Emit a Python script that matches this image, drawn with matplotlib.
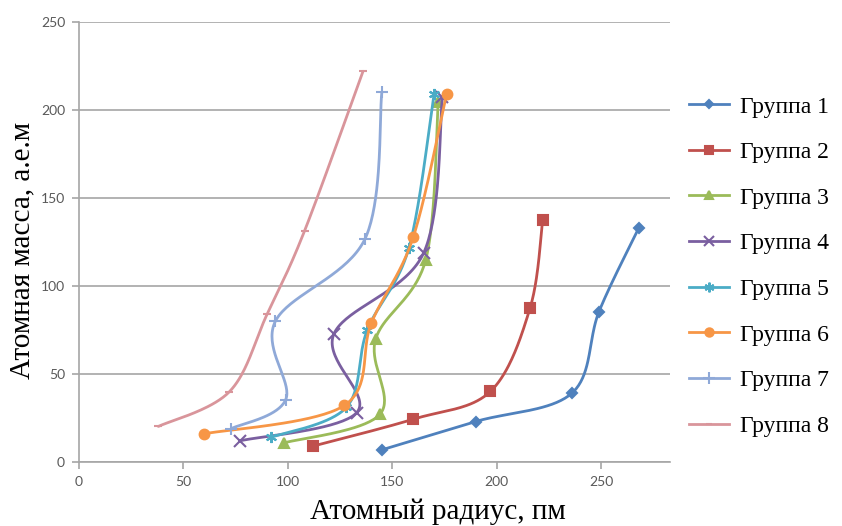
import matplotlib.pyplot as plt
from matplotlib.font_manager import FontProperties
import numpy as np

# Atomic radius (pm) vs atomic mass (a.m.u.) for main groups 1-8
groups = ['Группа 1', 'Группа 2', 'Группа 3', 'Группа 4',
          'Группа 5', 'Группа 6', 'Группа 7', 'Группа 8']

g1_r = [145, 190, 236, 249, 268]
g1_m = [6.9, 23.0, 39.1, 85.5, 132.9]

g2_r = [112, 160, 197, 216, 222]
g2_m = [9.0, 24.3, 40.1, 87.6, 137.3]

g3_r = [98, 144, 142, 166, 172]
g3_m = [10.8, 27.0, 69.7, 114.8, 204.4]

g4_r = [77, 133, 122, 165, 174]
g4_m = [12.0, 28.1, 72.6, 118.7, 207.2]

g5_r = [92, 128, 138, 158, 170]
g5_m = [14.0, 31.0, 74.9, 121.8, 209.0]

g6_r = [60, 127, 140, 160, 176]
g6_m = [16.0, 32.1, 79.0, 127.6, 209.0]

g7_r = [73, 99, 94, 137, 145]
g7_m = [19.0, 35.5, 79.9, 126.9, 210.0]

g8_r = [38, 72, 90, 108, 136]
g8_m = [20.2, 39.9, 83.8, 131.3, 222.0]

radii = [g1_r, g2_r, g3_r, g4_r, g5_r, g6_r, g7_r, g8_r]
masses = [g1_m, g2_m, g3_m, g4_m, g5_m, g6_m, g7_m, g8_m]

colors = ['#4F81BD', '#C0504D', '#9BBB59', '#7A5FA0',
          '#4BACC6', '#F79646', '#8FA9D8', '#D9959B']
markers = ['D', 's', '^', 'x', (6, 2, 0), 'o', '+', '_']
msizes = [5, 7, 7, 8, 8, 7, 9, 6]


def smooth(ax, xs, ys, n=40):
    # Catmull-Rom style Bezier smoothing computed in display space
    pts = ax.transData.transform(np.column_stack([xs, ys]))
    p = np.vstack([pts[0], pts, pts[-1]])
    out = []
    t = np.linspace(0, 1, n)[:, None]
    for i in range(1, len(p) - 2):
        p0, p1, p2, p3 = p[i - 1], p[i], p[i + 1], p[i + 2]
        c1 = p1 + (p2 - p0) / 6
        c2 = p2 - (p3 - p1) / 6
        seg = ((1 - t) ** 3) * p1 + 3 * ((1 - t) ** 2) * t * c1 \
            + 3 * (1 - t) * t ** 2 * c2 + t ** 3 * p2
        out.append(seg)
    curve = np.vstack(out)
    data = ax.transData.inverted().transform(curve)
    return data[:, 0], data[:, 1]


fig = plt.figure(figsize=(8.42, 5.26), dpi=100)
ax = fig.add_axes([0.0938, 0.1217, 0.702, 0.8365])
ax.set_xlim(0, 283)
ax.set_ylim(0, 250)
ax.set_xticks([0, 50, 100, 150, 200, 250])
ax.set_yticks([0, 50, 100, 150, 200, 250])

ax.yaxis.grid(True, color='#A6A6A6', linewidth=1.2)
ax.set_axisbelow(True)
for side in ['top', 'right']:
    ax.spines[side].set_visible(False)
for side in ['left', 'bottom']:
    ax.spines[side].set_color('#A6A6A6')
    ax.spines[side].set_linewidth(1.2)
ax.tick_params(colors='#A6A6A6', length=5, width=1.2, labelcolor='#595959',
               labelsize=10, pad=5)
for lab in ax.get_xticklabels() + ax.get_yticklabels():
    lab.set_family('Lato')

handles = []
for r, m, c, mk, ms, name in zip(radii, masses, colors, markers, msizes, groups):
    sx, sy = smooth(ax, r, m)
    ax.plot(sx, sy, color=c, linewidth=2.0, solid_capstyle='round')
    ax.plot(r, m, linestyle='none', marker=mk, color=c, markersize=ms,
            markeredgewidth=1.5)
    h, = ax.plot([], [], color=c, linewidth=2.0, marker=mk, markersize=ms - 1,
                 markeredgewidth=1.5, label=name)
    handles.append(h)

fig.text(438 / 842, 1 - 512 / 526, 'Атомный радиус, пм',
         family='Liberation Serif', fontsize=21, ha='center', va='center')
fig.text(22 / 842, 1 - 250 / 526, 'Атомная масса, а.е.м',
         family='Liberation Serif', fontsize=21, ha='center', va='center',
         rotation=90)

legend_font = FontProperties(family='Liberation Serif', size=17)
fig.legend(handles=handles, loc='upper left', bbox_to_anchor=(0.818, 0.8175),
           frameon=False, prop=legend_font,
           labelspacing=1.02, handlelength=1.7, handletextpad=0.45,
           borderaxespad=0, borderpad=0)

fig.savefig('out.png', dpi=100)
